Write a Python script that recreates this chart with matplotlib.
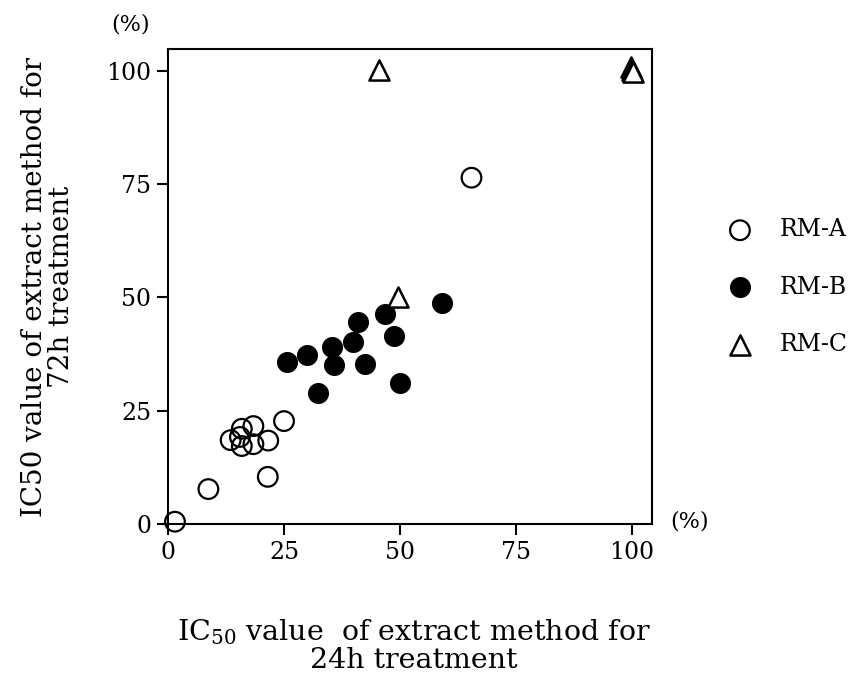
import numpy as np
import matplotlib.pyplot as plt

plt.rcParams['font.family'] = ['DejaVu Serif']
plt.rcParams['mathtext.fontset'] = 'dejavuserif'

# IC50 (%) : 24h treatment (x) vs 72h treatment (y)
rma_x = [1.5, 8.7, 21.5, 13.5, 15.5, 15.9, 18.4, 15.9, 18.4, 21.6, 25.0, 65.4]
rma_y = [0.5, 7.7, 10.4, 18.5, 19.2, 21.0, 21.6, 17.2, 17.6, 18.4, 22.7, 76.4]

rmb_x = [25.6, 29.9, 35.3, 35.8, 32.3, 39.9, 41.0, 42.5, 46.8, 48.7, 49.9, 59.0]
rmb_y = [35.7, 37.2, 39.0, 35.1, 28.8, 40.1, 44.5, 35.3, 46.4, 41.4, 31.0, 48.7]

rmc_x = [45.5, 49.6, 99.7, 100.0, 100.2]
rmc_y = [100.2, 50.1, 100.8, 100.2, 99.8]

ticks = [0, 25, 50, 75, 100]

fig = plt.figure(figsize=(8.62, 6.87), dpi=100)
ax = fig.add_axes([0.1949, 0.2373, 0.5615, 0.6914])

ax.scatter(rma_x, rma_y, s=200, facecolors='none', edgecolors='black',
           linewidths=1.6, label='RM-A', zorder=3, clip_on=False)
ax.scatter(rmb_x, rmb_y, s=200, color='black', label='RM-B', zorder=3)
ax.scatter(rmc_x, rmc_y, s=210, marker='^', facecolors='white', edgecolors='black',
           linewidths=1.8, label='RM-C', zorder=4, clip_on=False)

ax.set_xlim(0, 104.3)
ax.set_ylim(0, 104.8)
ax.set_xticks(ticks)
ax.set_yticks(ticks)
ax.tick_params(direction='out', length=8, width=1.5, labelsize=17, pad=4)
for sp in ax.spines.values():
    sp.set_linewidth(1.5)

fig.text(0.151, 0.965, '(%)', fontsize=16, ha='center', va='center')
fig.text(0.800, 0.241, '(%)', fontsize=16, ha='center', va='center')

fig.text(0.480, 0.060, 'IC$_{50}$ value  of extract method for\n24h treatment',
         fontsize=20.5, ha='center', va='center', linespacing=1.0)
fig.text(0.056, 0.582, 'IC50 value of extract method for\n72h treatment',
         fontsize=20, ha='center', va='center', rotation=90, linespacing=1.0)

fig.legend(loc='center left', bbox_to_anchor=(0.831, 0.582), frameon=False,
           fontsize=17, handlelength=1.0, handletextpad=1.2, labelspacing=1.45,
           borderpad=0, scatterpoints=1)

fig.savefig('out.png', dpi=100)
